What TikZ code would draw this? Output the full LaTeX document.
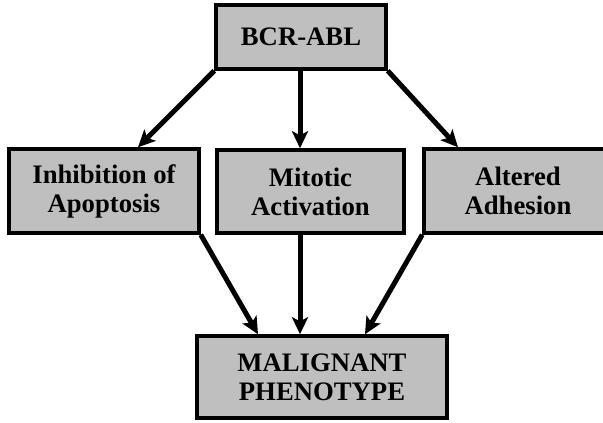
\documentclass[tikz,border=0pt]{standalone}
\usepackage{fontspec}
\setmainfont{LiberationSerif}[Extension=.ttf, UprightFont=*-Regular, BoldFont=*-Bold]
\usepackage{tikz}
\usetikzlibrary{arrows.meta}
\usetikzlibrary{shadows}
\colorlet{Box}{black!25}
\tikzset{
  block/.style={draw=black, line width=3.5pt, fill=Box, align=center, inner sep=0pt,
    font=\bfseries\fontsize{26.7}{29}\selectfont,
    drop shadow={shadow xshift=2pt, shadow yshift=-2pt, fill=black!75, opacity=1}},
  link/.style={black, line width=5pt, -{Stealth[length=17pt, width=16pt, inset=4pt]}}
}

\begin{document}
\begin{tikzpicture}[x=1pt, y=-1pt]
        \useasboundingbox (0,0) rectangle (603,423);
        \clip (0,0) rectangle (603,423);
        \node[block, minimum width=170pt, minimum height=64pt] (bcr) at (301,37) {BCR-ABL};
        \node[block, minimum width=190pt, minimum height=84pt] (inh) at (104,191) {Inhibition of\\Apoptosis};
        \node[block, minimum width=187pt, minimum height=83pt] (mit) at (310.5,191.5) {Mitotic\\Activation};
        \node[block, minimum width=188pt, minimum height=84pt] (alt) at (518,191) {Altered\\Adhesion};
        \node[block, minimum width=250pt, minimum height=82pt] (mal) at (322,377) {MALIGNANT\\PHENOTYPE};

        % edges (signal to effects)
        \draw[link] (bcr.south west) -- ([xshift=34pt]inh.north);
        \draw[link] ([xshift=-1pt]bcr.south) -- ([xshift=-10.5pt]mit.north);
        \draw[link] (bcr.south east) -- ([xshift=-60pt]alt.north);

        % edges (effects to phenotype)
        \draw[link] (inh.south east) -- ([xshift=-64pt]mal.north);
        \draw[link] ([xshift=-10.5pt]mit.south) -- ([xshift=-22pt]mal.north);
        \draw[link] (alt.south west) -- ([xshift=43pt]mal.north);
    \end{tikzpicture}
\end{document}
